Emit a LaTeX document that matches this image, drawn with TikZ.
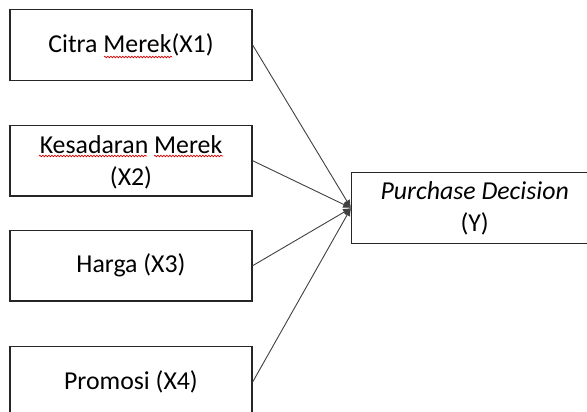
\documentclass[tikz,border=0pt]{standalone}
\usepackage{fontspec}
\setmainfont{Carlito}
\usetikzlibrary{arrows.meta,decorations.pathmorphing}
\begin{document}
\begin{tikzpicture}[x=1pt,y=-1pt,
  box/.style={draw=black!85,line width=1.3pt,minimum width=242pt,minimum height=70.5pt,inner sep=0pt,align=center,text=black,font=\fontsize{25.8}{32}\selectfont},
  conn/.style={draw=black!75,line width=0.9pt,-{Latex[length=8pt,width=7pt]}},
  spell/.style={draw=red!85!black,line width=0.7pt,decorate,decoration={snake,amplitude=0.8pt,segment length=3pt}}]
\useasboundingbox (0,0) rectangle (587,412);
\clip (0,0) rectangle (587,412);
\node[box] (x1) at (131,45) {Citra Merek(X1)};
\node[box,text depth=-2pt] (x2) at (131,160.7) {Kesadaran Merek\\(X2)};
\node[box] (x3) at (131,265.7) {Harga (X3)};
\node[box] (x4) at (131,382) {Promosi (X4)};
\node[box,minimum width=246pt] (y) at (474.7,208) {\textit{Purchase Decision}\\(Y)};
\draw[conn] (x1.east) -- (y.west);
\draw[conn] (x2.east) -- (y.west);
\draw[conn] (x3.east) -- (y.west);
\draw[conn] (x4.east) -- (y.west);
\coordinate (s1a) at (104,57); \coordinate (s1b) at (172,57);
\coordinate (s2a) at (39,156); \coordinate (s2b) at (147,156);
\coordinate (s3a) at (154,156); \coordinate (s3b) at (223,156);
\draw[spell] (s1a) -- (s1b);
\draw[spell] (s2a) -- (s2b);
\draw[spell] (s3a) -- (s3b);
\end{tikzpicture}
\end{document}
